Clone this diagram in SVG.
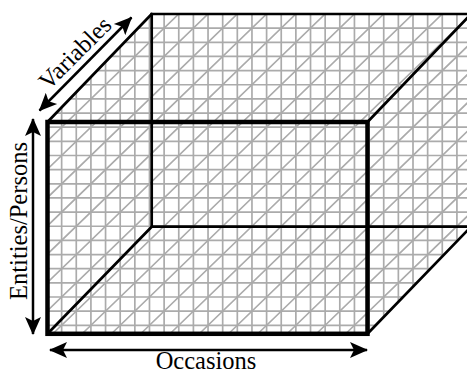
<svg xmlns="http://www.w3.org/2000/svg" width="467" height="373" viewBox="0 0 467 373">
<style>
.grid{fill:none;stroke:#ababab;stroke-width:1.7}
.edge{fill:none;stroke:#000;stroke-width:2.7;stroke-linecap:round}
.front{fill:none;stroke:#000;stroke-width:4.5;stroke-linejoin:miter}
.arrow{fill:none;stroke:#000;stroke-width:2.5;marker-start:url(#ah);marker-end:url(#ah)}
.lbl{font-family:"Liberation Serif","DejaVu Serif",serif;font-size:24.5px;fill:#000}
</style>
<defs>
<marker id="ah" viewBox="0 0 18 18" refX="17" refY="9" markerWidth="18" markerHeight="18" markerUnits="userSpaceOnUse" orient="auto-start-reverse">
<path d="M0,1 L18,9 L0,17 L4,9 z" fill="#000"/>
</marker>
<clipPath id="box">
<polygon points="47.5,122 151.7,14 472,14 472,226.7 367.5,333.8 47.5,333.8"/>
</clipPath>
</defs>
<rect width="467" height="373" fill="#fff"/>
<g id="grid" clip-path="url(#box)">
<path class="grid" d="M47,0V373M61.64,0V373M76.28,0V373M90.92,0V373M105.56,0V373M120.2,0V373M134.84,0V373M149.48,0V373M164.12,0V373M178.76,0V373M193.4,0V373M208.04,0V373M222.68,0V373M237.32,0V373M251.96,0V373M266.6,0V373M281.24,0V373M295.88,0V373M310.52,0V373M325.16,0V373M339.8,0V373M354.44,0V373M369.08,0V373M383.72,0V373M398.36,0V373M413,0V373M427.64,0V373M442.28,0V373M456.92,0V373M471.56,0V373"/>
<path class="grid" d="M0,14H467M0,28.15H467M0,42.3H467M0,56.45H467M0,70.6H467M0,84.75H467M0,98.9H467M0,113.05H467M0,127.2H467M0,141.35H467M0,155.5H467M0,169.65H467M0,183.8H467M0,197.95H467M0,212.1H467M0,226.25H467M0,240.4H467M0,254.55H467M0,268.7H467M0,282.85H467M0,297H467M0,311.15H467M0,325.3H467M0,339.45H467"/>
<path class="grid" d="M61.64,14L-268.41,333M90.92,14L-239.13,333M120.2,14L-209.85,333M149.48,14L-180.57,333M178.76,14L-151.29,333M208.04,14L-122.01,333M237.32,14L-92.73,333M266.6,14L-63.45,333M295.88,14L-34.17,333M325.16,14L-4.89,333M354.44,14L24.39,333M383.72,14L53.67,333M413,14L82.95,333M442.28,14L112.23,333M471.56,14L141.51,333M500.84,14L170.79,333M530.12,14L200.07,333M559.4,14L229.35,333M588.68,14L258.63,333M617.96,14L287.91,333M647.24,14L317.19,333M676.52,14L346.47,333M705.8,14L375.75,333M735.08,14L405.03,333M764.36,14L434.31,333M793.64,14L463.59,333"/>
</g>
<g id="connectors">
<path class="edge" d="M472,14H151.7V226.7H472"/>
<path class="edge" d="M47.5,122L151.7,14M367.5,122L471,14M367.5,333.8L471,226.7M47.5,333.8L151.7,226.7"/>
<line class="arrow" x1="39.5" y1="110.5" x2="131.5" y2="17.5"/>
<line class="arrow" x1="33" y1="119" x2="33" y2="334"/>
<line class="arrow" x1="50" y1="350" x2="367" y2="350"/>
</g>
<g id="front-face">
<rect class="front" x="47.5" y="122" width="320" height="211.8"/>
</g>
<g id="label-variables">
<text class="lbl" text-anchor="middle" transform="translate(75,53) rotate(-45)" y="8">Variables</text>
</g>
<g id="label-entities">
<text class="lbl" text-anchor="middle" transform="translate(27,221) rotate(-90)">Entities/Persons</text>
</g>
<g id="label-occasions">
<text class="lbl" text-anchor="middle" x="206" y="369">Occasions</text>
</g>
</svg>
